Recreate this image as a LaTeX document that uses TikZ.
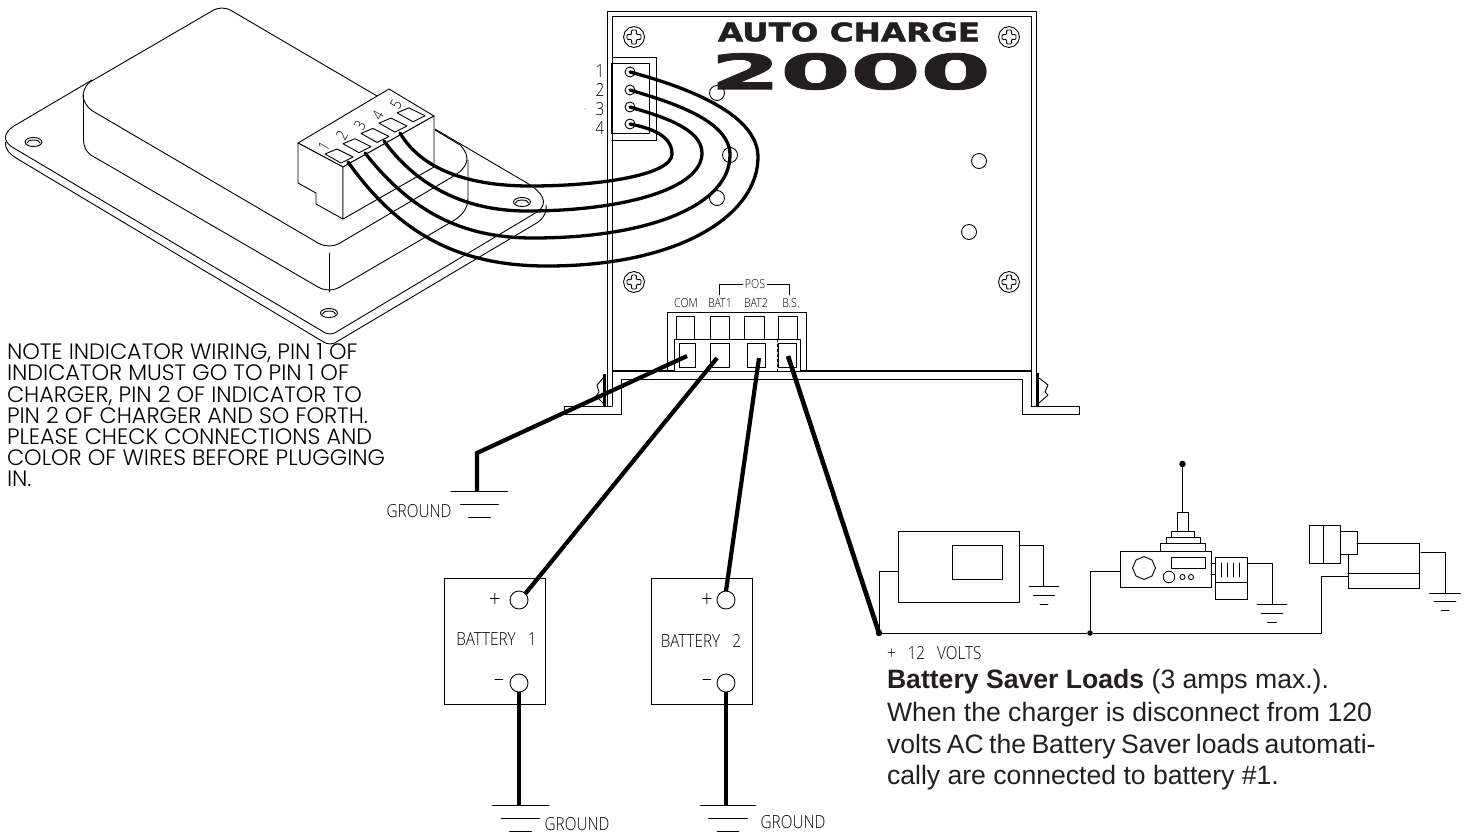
\documentclass[tikz,border=0pt]{standalone}
\usepackage{fontspec}
\usepackage{graphicx}
\setmainfont{Liberation Sans}
\newfontfamily\cadfont[UprightFont=* Light,FakeStretch=0.85]{Open Sans}
\newfontfamily\notefont[UprightFont=* Light]{Poppins}
\newfontfamily\logofont[FakeBold=1.5]{DejaVu Sans Bold}
\definecolor{ink}{HTML}{231F20}
\tikzset{
  ln/.style={line width=0.9pt,line join=round,line cap=round},
  wirec/.style={line width=3.3pt,line cap=round,line join=round},
  wireb/.style={line width=4.2pt,line cap=butt,line join=miter},
  thin wire/.style={line width=1pt},
  pinc/.style={circle,draw,line width=0.9pt,fill=white,minimum size=10pt,inner sep=0,outer sep=0},
  hole/.style={circle,draw,line width=0.9pt,minimum size=15pt,inner sep=0,outer sep=0},
  term/.style={circle,draw,line width=0.9pt,fill=white,minimum size=18pt,inner sep=0,outer sep=0},
  batt/.style={rectangle,draw,line width=0.9pt,minimum width=101pt,minimum height=126pt,inner sep=0,outer sep=0},
  dotn/.style={circle,fill=black,minimum size=6.5pt,inner sep=0,outer sep=0},
  cadl/.style={font=\cadfont\fontsize{18}{18}\selectfont,inner sep=0,outer sep=0,anchor=center},
  cads/.style={font=\cadfont\fontsize{12.5}{14}\selectfont,inner sep=0,outer sep=0,anchor=center},
  cadsign/.style={font=\cadfont\fontsize{24}{24}\selectfont,inner sep=0,outer sep=0,anchor=center},
  notel/.style={font=\notefont\fontsize{22.3}{22.3}\selectfont,inner sep=0,outer sep=0,anchor=base west},
  paral/.style={font=\fontsize{26.6}{26.6}\selectfont,text=ink,inner sep=0,outer sep=0,anchor=base west},
}
\newcommand{\gndsym}[6]{% x y w1 w2 w3 dy
  \draw[ln] (#1-#3/2,#2) -- (#1+#3/2,#2);
  \draw[ln] (#1-#4/2,#2+#6) -- (#1+#4/2,#2+#6);
  \draw[ln] (#1-#5/2,#2+2*#6) -- (#1+#5/2,#2+2*#6);
}
\newcommand{\screwsym}[2]{%
  \begin{scope}[shift={(#1,#2)}]
    \draw[ln] (10.5,0)--(9,5.3)--(5.3,9)--(0,10.5)--(-5.3,9)--(-9,5.3)--(-10.5,0)--(-9,-5.3)--(-5.3,-9)--(0,-10.5)--(5.3,-9)--(9,-5.3)--cycle;
    \draw[ln,rounded corners=1pt] (-2.4,-7)--(2.4,-7)--(2.4,-2.4)--(7,-2.4)--(7,2.4)--(2.4,2.4)--(2.4,7)--(-2.4,7)--(-2.4,2.4)--(-7,2.4)--(-7,-2.4)--(-2.4,-2.4)--cycle;
  \end{scope}}
\begin{document}
\begin{tikzpicture}[x=1pt,y=-1pt]
\useasboundingbox (0,0) rectangle (1466,836);
% --- indicator plate
\draw[ln] (435,129) -- (527,183) .. controls (542,192) and (550,203) .. (537,212) -- (338,331) .. controls (332,335) and (328,335) .. (322,331) -- (12,147) .. controls (3,141) and (3,133) .. (14,126) -- (92,80);
\draw[ln] (5.5,142) .. controls (5,150) and (10,154) .. (16,158) -- (322,341) .. controls (328,345) and (332,345) .. (338,341) -- (535,224) .. controls (542,220) and (547,214) .. (546,205);
% --- indicator block
\draw[ln] (377,96) -- (232,11) .. controls (225,7) and (219,7) .. (212,11) -- (90,82) .. controls (83,87) and (82,98) .. (84,100) .. controls (86,106) and (90,110) .. (96,113) -- (318,243) .. controls (325,247) and (333,247) .. (340,243) -- (452,177) .. controls (468,168) and (472,157) .. (460,145) -- (435,130);
\draw[ln] (83.5,95) -- (83.5,140) .. controls (84,150) and (89,155) .. (96,158) -- (318,287) .. controls (325,291) and (333,291) .. (340,287) -- (453,221) .. controls (463,215) and (468,208) .. (468,198) -- (468,160);
\draw[ln] (329,253) -- (329,292);
\draw[ln] (33.5,142) ellipse (8.5 and 4.5);
\draw[ln] (27,143) arc (180:360:6.5 and 3);
\draw[ln] (329,313) ellipse (8.5 and 4.5);
\draw[ln] (322.5,314) arc (180:360:6.5 and 3);
\draw[ln] (522,202) ellipse (8.5 and 4.5);
\draw[ln] (515.5,203) arc (180:360:6.5 and 3);
% --- indicator connector
\draw[ln,fill=white] (298,143) -- (389,89) -- (434,116) -- (343,167) -- cycle;
\draw[ln,fill=white] (298,143) -- (298,183) -- (316,193) -- (316,204) -- (343,219) -- (343,167) -- cycle;
\draw[ln,fill=white] (343,219) -- (434,167) -- (434,116) -- (343,167) -- cycle;
\foreach \i/\lab in {0/1,1/2,2/3,3/4,4/5}{
  \begin{scope}[shift={(18*\i,-10.3*\i)}]
    \draw[ln] (325,154) -- (337,149) -- (353,157) -- (341,163) -- cycle;
    \node[cadl,font=\cadfont\fontsize{15.5}{16}\selectfont,rotate=60] (il\lab) at (324,146) {\lab};
  \end{scope}}
\coordinate (ip1) at (348,162);
\coordinate (ip2) at (365,153);
\coordinate (ip3) at (384,141);
\coordinate (ip4) at (400,133);
% --- charger
\draw[ln] (607,406) -- (607,11) -- (1036,11) -- (1036,406);
\draw[ln] (612,406) -- (612,16) -- (1031,16) -- (1031,406);
\draw[ln] (612,406) -- (564,406) -- (564,414) -- (621,414) -- (621,379) -- (1022,379) -- (1022,414) -- (1079,414) -- (1079,406) -- (1031,406);
\draw[line width=1.5pt] (612,371) -- (1031,371);
\draw[line width=2.5pt] (604.5,374) -- (604.5,406);
\draw[ln] (603,378) -- (597,385) -- (599,392) -- (596,396) -- (603,403);
\draw[line width=2.5pt] (1038,373) -- (1038,406);
\draw[ln] (1039,378) -- (1048,385) -- (1045,392) -- (1048,395) -- (1039,403);
\screwsym{634}{37}\screwsym{1009}{37}\screwsym{634}{282}\screwsym{1009}{282}
\node[hole] (h1) at (717,93) {};
\node[hole] (h2) at (730,155) {};
\node[hole] (h3) at (717,198) {};
\node[hole] (h4) at (979,161) {};
\node[hole] (h5) at (969,232) {};
\node[inner sep=0,outer sep=0,text=ink] (logoa) at (849,32) {\resizebox{262pt}{19pt}{\logofont AUTO CHARGE}};
\node[inner sep=0,outer sep=0,text=ink] (logob) at (850.5,71.5) {\resizebox{280pt}{36pt}{\logofont 2000}};
% --- pin header
\draw[ln] (612,63) -- (612,57) -- (656,57) -- (656,140) -- (612,140);
\draw[ln] (611,63) rectangle (649,133);
\node[pinc] (p1) at (630,72) {};
\node[pinc] (p2) at (630,90) {};
\node[pinc] (p3) at (630,107) {};
\node[pinc] (p4) at (630,124) {};
\foreach \lab/\yy in {1/71,2/90,3/109,4/128}{\node[cadl] (pl\lab) at (600,\yy) {\lab};}
\fill (585,109) circle (0.5);
% --- wires indicator to charger
\draw[wirec] (ip4) .. controls (425,175) and (480,186) .. (530,186) .. controls (600,186) and (672,175) .. (672,154) .. controls (672,135) and (650,128) .. (p4.center);
\draw[wirec] (ip3) .. controls (420,190) and (470,211) .. (527,211) .. controls (620,211) and (702,190) .. (702,153) .. controls (702,128) and (660,116) .. (p3.center);
\draw[wirec] (ip2) .. controls (410,210) and (460,238) .. (533,238) .. controls (650,238) and (730,205) .. (730,155) .. controls (730,120) and (670,102) .. (p2.center);
\draw[wirec] (ip1) .. controls (400,235) and (460,266) .. (547,266) .. controls (680,266) and (758,215) .. (758,157) .. controls (758,115) and (690,88) .. (p1.center);
% --- terminal block
\draw[ln] (667.5,371) -- (667.5,312) -- (806,312) -- (806,371);
\foreach \xa/\xb in {676/694,710/729.5,744.5/764,778.5/797.5}{\draw[ln] (\xa,339) -- (\xa,316) -- (\xb,316) -- (\xb,339);}
\draw[ln,fill=white] (674,371) -- (674,339) -- (800,339) -- (800,371);
\draw[ln] (679,343) rectangle (695,367);
\draw[ln] (710.5,343) rectangle (729,367);
\draw[ln] (747,343) rectangle (765.5,367);
\draw[ln] (778,343) rectangle (796,367);
\draw[ln,dash pattern=on 3pt off 2pt] (777.5,339) -- (777.5,371);
\coordinate (tcom) at (687,356);
\coordinate (tb1) at (717,358);
\coordinate (tb2) at (759,358);
\coordinate (tbs) at (788,356);
\node[cads] (lcom) at (686,303) {COM};
\node[cads] (lb1) at (720,303) {BAT1};
\node[cads] (lb2) at (756,303) {BAT2};
\node[cads] (lbs) at (791,303) {B.S.};
\node[cads] (lpos) at (755,284) {\,POS\,};
\draw[ln] (719,295) -- (719,284) -- (lpos.west);
\draw[ln] (789,295) -- (789,284) -- (lpos.east);
% --- ground of COM
\coordinate (g0) at (477,491);
\draw[wireb] (tcom) -- (477,453) -- (g0);
\gndsym{479.5}{491}{57}{38}{22}{13}
\node[cadl] (lg0) at (419,511) {GROUND};
% --- batteries
\node[batt] (b1) at (494.5,641) {};
\node[batt] (b2) at (702,641) {};
\node[term] (b1p) at (519,600) {};
\node[term] (b1m) at (519,683) {};
\node[term] (b2p) at (726,600) {};
\node[term] (b2m) at (726,683) {};
\node[cadl] (lb1t) at (496.5,639) {BATTERY\hspace{12pt}1};
\node[cadl] (lb2t) at (701,641) {BATTERY\hspace{12pt}2};
\node[cadsign] (b1pl) at (495,600) {+};
\node[cadsign] (b1ml) at (499,683) {–};
\node[cadsign] (b2pl) at (707,600) {+};
\node[cadsign] (b2ml) at (707,683) {–};
\coordinate (gb1) at (519,805);
\coordinate (gb2) at (726,805);
\draw[wireb] (tb1) -- (b1p.north east);
\draw[wireb] (tb2) -- (b2p.north);
\draw[wireb] (b1m.south) -- (gb1);
\draw[wireb] (b2m.south) -- (gb2);
\gndsym{520.5}{805}{57}{39}{22}{13}
\gndsym{728}{805}{56}{39}{22}{13}
\node[cadl] (lg1) at (577,824) {GROUND};
\node[cadl] (lg2) at (793,822) {GROUND};
% --- loads
\node[dotn] (j1) at (879,633) {};
\node[dotn,minimum size=5.5pt] (j2) at (1090,633) {};
\draw[wireb,line width=4.6pt] (tbs) -- (j1.center);
\draw[thin wire] (j1) -- (j2) -- (1321,633) -- (1321,576) -- (1348,576);
\draw[thin wire] (j2) -- (1090,571) -- (1120.5,571);
\draw[thin wire] (j1) -- (879,571) -- (898,571);
% load 1
\draw[ln] (898,531) rectangle (1019,602);
\draw[ln] (952,545) rectangle (1002.5,579);
\draw[ln] (1019,545) -- (1043,545) -- (1043,586);
\gndsym{1044}{586}{30}{21.5}{8}{9}
% load 2
\draw[ln] (1120.5,551) rectangle (1211,587);
\draw[ln] (1171,557) rectangle (1205,568);
\draw[ln] (1144,568) +(11.5,0) -- +(8,8) -- +(0,11.5) -- +(-8,8) -- +(-11.5,0) -- +(-8,-8) -- +(0,-11.5) -- +(8,-8) -- cycle;
\draw[ln] (1169,577) circle (5.8);
\draw[ln] (1182.5,577) circle (2.6);
\draw[ln] (1191,577) circle (2.6);
\draw[ln] (1160,551) -- (1160,543) -- (1205,543) -- (1205,551);
\draw[ln] (1166,543) -- (1166,537) -- (1200,537) -- (1200,543);
\draw[ln] (1171,537) -- (1171,531) -- (1194,531) -- (1194,537);
\draw[ln] (1177,531) -- (1177,512) -- (1188,512) -- (1188,531);
\node[dotn] (ant) at (1182.5,464) {};
\draw[ln] (1182.5,512) -- (ant);
\draw[ln] (1215.5,557) rectangle (1247,599);
\draw[ln] (1215.5,582) -- (1247,582);
\foreach \xx in {1221,1227,1233,1239}{\draw[ln] (\xx,563) -- (\xx,577);}
\draw[ln] (1211,563) -- (1215.5,563) (1211,574) -- (1215.5,574);
\draw[ln] (1247,563) -- (1272,563) -- (1272,604);
\gndsym{1272}{604}{30}{21.5}{9}{9}
% load 3
\draw[ln] (1309,525) rectangle (1340,563);
\draw[ln] (1323,525) -- (1323,563);
\draw[ln] (1340,531) rectangle (1357,554);
\draw[ln] (1357,543) -- (1419,543) -- (1419,588) -- (1348,588) -- (1348,554);
\draw[ln] (1348,573) -- (1419,573);
\draw[ln] (1421,552) -- (1445,552) -- (1445,593);
\gndsym{1445}{593}{31}{22}{8}{8.7}
% --- text
\node[cadl,anchor=base west] (v12) at (887,659) {+\hspace{12pt}12\hspace{12pt}VOLTS};
\node[paral] (t1) at (887,688) {\textbf{Battery Saver Loads} (3 amps max.).};
\node[paral] (t2) at (887,721) {When the charger is disconnect from 120};
\node[paral,execute at begin node={\spaceskip=5.3pt plus 0pt minus 0pt}] (t3) at (887,753) {volts AC the Battery Saver loads automati-};
\node[paral] (t4) at (887,784) {cally are connected to battery \#1.};
\node[notel] (n1) at (7,359) {NOTE INDICATOR WIRING, PIN 1 OF};
\node[notel] (n2) at (7,380) {INDICATOR MUST GO TO PIN 1 OF};
\node[notel] (n3) at (7,402) {CHARGER, PIN 2 OF INDICATOR TO};
\node[notel] (n4) at (7,423) {PIN 2 OF CHARGER AND SO FORTH.};
\node[notel] (n5) at (7,444) {PLEASE CHECK CONNECTIONS AND};
\node[notel] (n6) at (7,465) {COLOR OF WIRES BEFORE PLUGGING};
\node[notel] (n7) at (7,486) {IN.};
\end{tikzpicture}
\end{document}
